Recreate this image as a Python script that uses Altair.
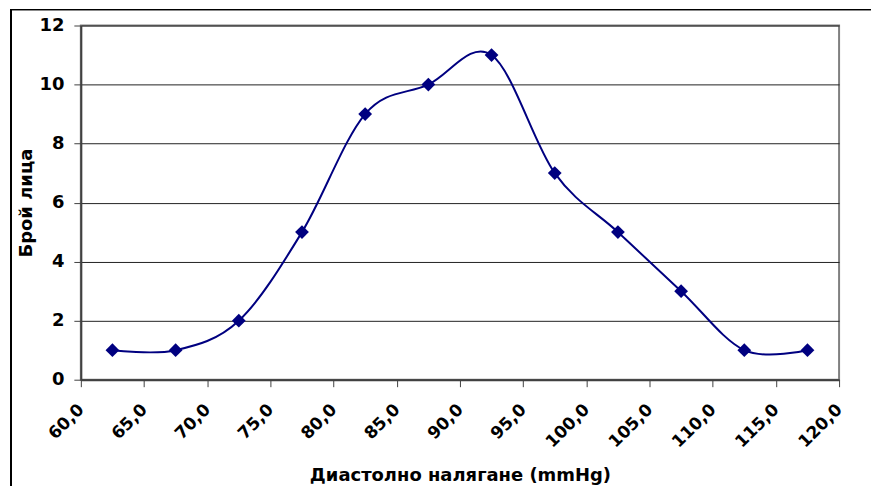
import altair as alt
import pandas as pd

pressure = [62.5, 67.5, 72.5, 77.5, 82.5, 87.5, 92.5, 97.5, 102.5, 107.5, 112.5, 117.5]
count = [1, 1, 2, 5, 9, 10, 11, 7, 5, 3, 1, 1]
x_ticks = [60, 65, 70, 75, 80, 85, 90, 95, 100, 105, 110, 115, 120]
y_ticks = [0, 2, 4, 6, 8, 10, 12]

df = pd.DataFrame({"p": pressure, "n": count})

FONT = "DejaVu Sans"
NAVY = "#000080"

x_enc = alt.X(
    "p:Q",
    scale=alt.Scale(domain=[60, 120], nice=False, zero=False),
    axis=alt.Axis(
        title="Диастолно налягане (mmHg)",
        values=x_ticks,
        labelExpr="replace(format(datum.value, '.1f'), '.', ',')",
        labelAngle=-45,
        labelAlign="right",
        labelBaseline="middle",
        labelPadding=20,
        labelOffset=0,
        labelFontSize=17,
        labelFontWeight="bold",
        labelFont=FONT,
        labelColor="#000",
        titleFont=FONT,
        titleFontSize=18,
        titleFontWeight="bold",
        titleColor="#000",
        titlePadding=16,
        grid=False,
        domainColor="#404040",
        domainWidth=2,
        tickColor="#404040",
        tickSize=7,
        tickWidth=1,
    ),
)
y_enc = alt.Y(
    "n:Q",
    scale=alt.Scale(domain=[0, 12], nice=False),
    axis=alt.Axis(
        title="Брой лица",
        values=y_ticks,
        labelFontSize=18,
        labelFontWeight="bold",
        labelFont=FONT,
        labelColor="#000",
        labelPadding=10,
        titleFont=FONT,
        titleFontSize=18,
        titleFontWeight="bold",
        titleColor="#000",
        titlePadding=3,
        grid=True,
        gridColor="#222222",
        gridWidth=1,
        domainColor="#404040",
        domainWidth=2,
        tickColor="#404040",
        tickSize=7,
        tickWidth=1,
    ),
)

line = alt.Chart(df).mark_line(
    color=NAVY, strokeWidth=2, interpolate="cardinal", tension=0
).encode(x=x_enc, y=y_enc)

points = alt.Chart(df).mark_point(
    shape="diamond", filled=True, color=NAVY, size=190, opacity=1
).encode(x="p:Q", y="n:Q")

frame_left = alt.Chart(df).mark_rule(color="#000", strokeWidth=1).encode(
    x=alt.value(-70), y=alt.value(-16), y2=alt.value(480)
)
frame_top = alt.Chart(df).mark_rule(color="#000", strokeWidth=1).encode(
    x=alt.value(-70), x2=alt.value(800), y=alt.value(-16)
)

chart = (
    alt.layer(frame_left, frame_top, line, points)
    .properties(
        width=760,
        height=355,
        autosize=alt.AutoSizeParams(type="none"),
        padding={"left": 73, "top": 17, "right": 32, "bottom": 106},
        background="white",
    )
    .configure_view(stroke="#808080", strokeWidth=2)
)

chart.save("out.html", embed_options={"renderer": "svg", "actions": False})
